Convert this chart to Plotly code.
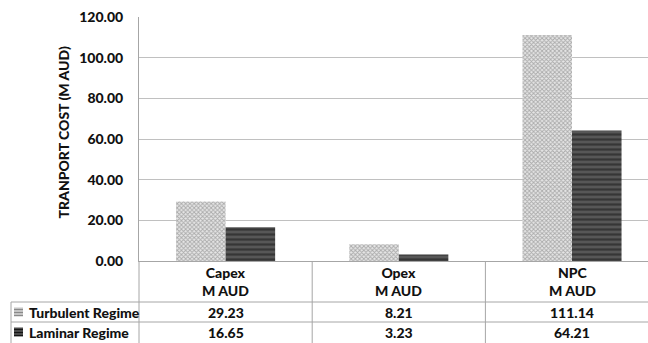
import plotly.graph_objects as go

# Cost categories and the two flow regimes (M AUD)
categories = ["Capex", "Opex", "NPC"]
category_units = ["M AUD", "M AUD", "M AUD"]
turbulent = [29.23, 8.21, 111.14]
laminar = [16.65, 3.23, 64.21]
series_names = ["Turbulent Regime", "Laminar Regime"]
y_ticks = [0, 20, 40, 60, 80, 100, 120]

W, H = 648, 343
L, R, T, B = 139, 0, 17, 82
plot_w = W - L - R
plot_h = H - T - B

FONT = "Lato"
TXT = "#111111"
LINE = "#a6a6a6"

TURB_PATTERN = dict(shape="x", fgcolor="#6e6e6e", bgcolor="#e6e6e6", size=3, solidity=0.5)
LAM_PATTERN = dict(shape="-", fgcolor="#161616", bgcolor="#575757", size=5, solidity=0.45)


def px_x(p):
    return (p - L) / plot_w


def px_y(p):
    return (H - B - p) / plot_h


fig = go.Figure()
fig.add_trace(go.Bar(
    x=categories, y=turbulent, name=series_names[0],
    marker=dict(color="white", line=dict(width=0), pattern=TURB_PATTERN),
))
fig.add_trace(go.Bar(
    x=categories, y=laminar, name=series_names[1],
    marker=dict(color="#555555", line=dict(width=0), pattern=LAM_PATTERN),
))

shapes = []
# data table grid below the plot
row_tops = [px_y(302), px_y(322)]
bottom = px_y(H + 2)
for yy in row_tops:
    shapes.append(dict(type="line", xref="paper", yref="paper",
                       x0=px_x(11), x1=1.0, y0=yy, y1=yy,
                       line=dict(color=LINE, width=1)))
shapes.append(dict(type="line", xref="paper", yref="paper",
                   x0=px_x(11), x1=px_x(11), y0=row_tops[0], y1=bottom,
                   line=dict(color=LINE, width=1)))
shapes.append(dict(type="line", xref="paper", yref="paper",
                   x0=0, x1=0, y0=0, y1=bottom,
                   line=dict(color=LINE, width=1)))
for b in [0.5, 1.5]:
    shapes.append(dict(type="line", xref="x", yref="paper",
                       x0=b, x1=b, y0=0, y1=bottom,
                       line=dict(color=LINE, width=1)))

# legend keys inside the table's first column
for (cy, fill, stripe) in [(312, "#c4c4c4", "#8a8a8a"), (332, "#4a4a4a", "#151515")]:
    shapes.append(dict(type="rect", xref="paper", yref="paper",
                       x0=px_x(14), x1=px_x(23), y0=px_y(cy - 4.5), y1=px_y(cy + 4.5),
                       fillcolor=fill, line=dict(width=0)))
    for dy in (-2, 1, 4):
        shapes.append(dict(type="line", xref="paper", yref="paper",
                           x0=px_x(14), x1=px_x(23), y0=px_y(cy + dy - 0.5), y1=px_y(cy + dy - 0.5),
                           line=dict(color=stripe, width=1)))

annotations = []
tfont = dict(family=FONT, size=14, color=TXT, weight=900)
for c, u, tv, lv in zip(categories, category_units, turbulent, laminar):
    annotations.append(dict(x=c, xref="x", y=px_y(281), yref="paper",
                            text=f"{c}<br>{u}", showarrow=False, font=tfont,
                            xanchor="center", yanchor="middle"))
    annotations.append(dict(x=c, xref="x", y=px_y(312), yref="paper",
                            text=f"{tv:.2f}", showarrow=False, font=tfont,
                            xanchor="center", yanchor="middle"))
    annotations.append(dict(x=c, xref="x", y=px_y(332), yref="paper",
                            text=f"{lv:.2f}", showarrow=False, font=tfont,
                            xanchor="center", yanchor="middle"))
for name, yy in zip(series_names, [312, 332]):
    annotations.append(dict(x=px_x(27), xref="paper", y=px_y(yy), yref="paper",
                            text=name, showarrow=False, font=tfont,
                            xanchor="left", yanchor="middle"))
annotations.append(dict(x=px_x(63), xref="paper", y=px_y(132.5), yref="paper",
                        text="TRANPORT COST (M AUD)", textangle=-90,
                        showarrow=False,
                        font=dict(family=FONT, size=14, color=TXT, weight=900),
                        xanchor="center", yanchor="middle"))

fig.update_layout(
    width=W, height=H,
    margin=dict(l=L, r=R, t=T, b=B, pad=0, autoexpand=False),
    paper_bgcolor="white", plot_bgcolor="white",
    barmode="group", bargap=0.428, bargroupgap=0,
    shapes=shapes, annotations=annotations,
    showlegend=False,
    xaxis=dict(type="category", range=[-0.5, -0.5 + plot_w / 173.2],
               showticklabels=False, showgrid=False, showline=True,
               linecolor=LINE, linewidth=1, ticks=""),
    yaxis=dict(range=[0, 120], tickvals=y_ticks, tickformat=".2f",
               showgrid=True, gridcolor="#c0c0c0", gridwidth=1,
               showline=True, linecolor=LINE, linewidth=1,
               zeroline=False, ticks="", ticklabelstandoff=12,
               tickfont=dict(family=FONT, size=14, color=TXT, weight=900)),
)

fig.write_html("out.html")
